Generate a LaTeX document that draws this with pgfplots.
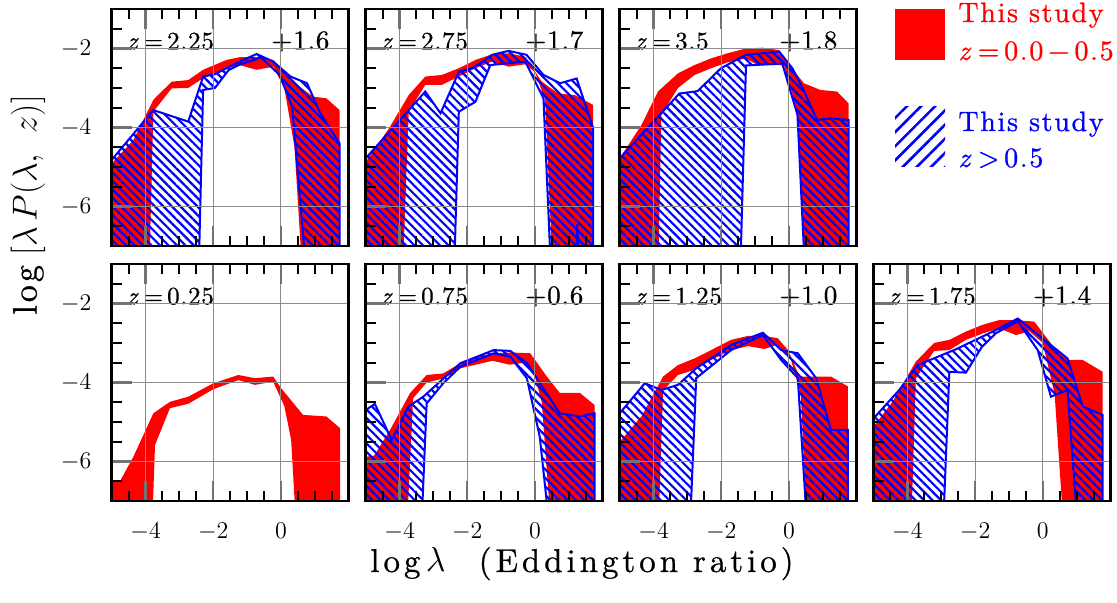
\documentclass[border=0pt]{standalone}
\usepackage{fontspec}
\usepackage{pgfplots}
\pgfplotsset{compat=1.18}
\usetikzlibrary{patterns.meta}
\newfontfamily\lmls{lmroman10-regular.otf}[LetterSpace=9, FakeBold=0.8, ItalicFont=lmroman10-italic.otf]
\newfontfamily\lmlz{lmroman10-regular.otf}[LetterSpace=3, FakeBold=0.8, ItalicFont=lmroman10-italic.otf]
\newfontfamily\lmlg{lmroman10-regular.otf}[LetterSpace=6, FakeBold=0.8, ItalicFont=lmroman10-italic.otf]
\newfontfamily\lmlw{lmroman10-regular.otf}[LetterSpace=12, FakeBold=0.8, ItalicFont=lmroman10-italic.otf]
\definecolor{pred}{RGB}{255,0,0}
\definecolor{pblue}{RGB}{0,0,255}
\tikzset{lab/.style={font=\lmlz\fontsize{12.5}{12.5}\selectfont, inner sep=0pt},
         labr/.style={font=\lmlz\fontsize{13.5}{13.5}\selectfont, inner sep=0pt}}
\pgfplotsset{
  panel/.style={
    scale only axis, width=118.5pt, height=118.5pt, anchor=south west,
    xmin=-5, xmax=2, ymin=-7, ymax=-1,
    xtick={-4,-2,0}, ytick={-6,-4,-2},
    minor xtick={-4.5,-3.5,-3,-2.5,-1.5,-1,-0.5,0.5,1,1.5},
    minor ytick={-6.5,-5.5,-5,-4.5,-3.5,-3,-2.5,-1.5},
    tick align=inside, xtick pos=both, ytick pos=left,
    major tick length=10pt, minor tick length=5pt,
    major tick style={black!55, line width=1.2pt},
    minor tick style={black, line width=1pt},
    grid=major, major grid style={black!45, line width=0.5pt},
    axis line style={line width=1.3pt},
    axis on top,
    xticklabels={}, yticklabels={},
    tick label style={font=\fontsize{13}{13}\selectfont, inner sep=0pt},
  },
  xlab/.style={xticklabels={$-4$,$-2$,$0$}, xticklabel style={yshift=-11pt}},
  ylab/.style={yticklabels={$-6$,$-4$,$-2$}, yticklabel style={xshift=-10pt}},
  redband/.style={draw=none, fill=pred},
  blueband/.style={pattern={Lines[angle=-45,distance=3pt,line width=1.1pt]}, pattern color=pblue, draw=pblue, line width=1pt},
}
\newcommand{\zl}[1]{\textit{z}\,=\,#1}
\begin{document}
\begin{tikzpicture}
% ---------- top row ----------
\begin{axis}[panel, ylab, at={(55.85pt,178.5pt)}]
\addplot[redband] coordinates {(-5,-4.91) (-4.36,-4.32) (-3.77,-3.3) (-3.23,-2.84) (-2.74,-2.8) (-2.3,-2.54) (-1.61,-2.29) (-1.22,-2.22) (-0.72,-2.21) (-0.23,-2.29) (0.28,-2.8) (0.95,-3.22) (1.34,-3.26) (1.73,-3.56) (1.73,-8) (0.65,-8) (0.4,-4.5) (0.1,-3.0) (-0.23,-2.46) (-0.72,-2.54) (-1.22,-2.42) (-1.61,-2.5) (-2.3,-2.75) (-2.74,-3.0) (-3.23,-3.01) (-3.77,-3.6) (-3.9,-8) (-5,-8)} -- cycle;
\addplot[blueband] coordinates {(-5,-4.82) (-3.77,-3.56) (-2.74,-3.85) (-2.3,-2.71) (-1.95,-2.65) (-1.22,-2.33) (-0.72,-2.14) (-0.23,-2.33) (0.28,-2.71) (0.77,-2.88) (1.16,-3.64) (1.73,-4.4) (1.73,-8) (0.78,-8) (0.33,-3.47) (-0.04,-2.67) (-0.6,-2.22) (-0.75,-2.28) (-1.2,-2.4) (-1.55,-2.55) (-1.95,-3.0) (-2.3,-3.05) (-2.44,-8) (-5,-8)} -- cycle;
\node[lab, anchor=base west] at (rel axis cs:0.063,0.83) {\zl{2.25}};
\node[labr, anchor=base east] at (rel axis cs:0.92,0.83) {+1.6};
\end{axis}
\begin{axis}[panel, at={(182.85pt,178.5pt)}]
\addplot[redband] coordinates {(-5,-4.87) (-4.31,-4.02) (-3.73,-3.18) (-3.24,-2.71) (-2.75,-2.67) (-2.25,-2.5) (-1.76,-2.29) (-1.27,-2.15) (-0.78,-2.12) (-0.29,-2.21) (0.2,-2.84) (0.69,-3.14) (1.18,-3.18) (1.72,-3.43) (1.72,-8) (0.54,-8) (0.3,-3.3) (0.0,-2.6) (-0.29,-2.4) (-0.78,-2.46) (-1.27,-2.33) (-1.76,-2.5) (-2.25,-2.71) (-2.75,-2.92) (-3.24,-2.92) (-3.73,-3.6) (-3.92,-8) (-5,-8)} -- cycle;
\addplot[blueband] coordinates {(-5,-4.78) (-3.24,-3.09) (-2.79,-3.64) (-2.25,-2.59) (-1.86,-2.5) (-1.47,-2.29) (-1.27,-2.16) (-0.78,-2.06) (-0.25,-2.16) (0.25,-2.67) (0.74,-2.88) (1.23,-2.76) (1.72,-4.02) (1.72,-8) (1.32,-8) (1.25,-6.45) (1.18,-8) (0.49,-8) (0.25,-3.26) (-0.29,-2.33) (-1.32,-2.42) (-1.76,-3.35) (-2.25,-3.6) (-2.4,-8) (-5,-8)} -- cycle;
\node[lab, anchor=base west] at (rel axis cs:0.063,0.83) {\zl{2.75}};
\node[labr, anchor=base east] at (rel axis cs:0.92,0.83) {+1.7};
\end{axis}
\begin{axis}[panel, at={(309.85pt,178.5pt)}]
\addplot[redband] coordinates {(-5,-4.78) (-4.36,-3.94) (-3.87,-3.09) (-3.28,-2.63) (-2.79,-2.42) (-2.3,-2.25) (-1.81,-2.12) (-1.27,-2.0) (-0.78,-1.98) (-0.29,-2.04) (0.05,-2.46) (0.44,-2.88) (0.93,-3.05) (1.42,-3.09) (1.76,-3.39) (1.76,-8) (0.49,-8) (0.25,-3.6) (-0.15,-2.42) (-0.93,-2.42) (-1.27,-2.25) (-1.81,-2.35) (-2.3,-2.5) (-2.79,-2.67) (-3.28,-3.0) (-3.77,-3.68) (-3.87,-8) (-5,-8)} -- cycle;
\addplot[blueband] coordinates {(-5,-4.78) (-3.24,-3.14) (-2.7,-3.08) (-2.01,-2.5) (-1.27,-2.16) (-0.29,-2.08) (0.1,-2.5) (0.4,-3.0) (0.83,-3.81) (1.23,-3.77) (1.76,-3.81) (1.76,-8) (0.49,-8) (0.25,-3.68) (-0.2,-2.38) (-1.27,-2.43) (-1.45,-8) (-5,-8)} -- cycle;
\node[lab, anchor=base west] at (rel axis cs:0.063,0.83) {\zl{3.5}};
\node[labr, anchor=base east] at (rel axis cs:0.92,0.83) {+1.8};
\end{axis}
% ---------- bottom row ----------
\begin{axis}[panel, xlab, ylab, at={(55.85pt,51pt)}]
\addplot[redband] coordinates {(-5,-6.49) (-4.75,-6.49) (-4.36,-5.88) (-3.77,-4.78) (-3.28,-4.49) (-2.74,-4.36) (-2.0,-4.02) (-1.26,-3.81) (-0.77,-3.89) (-0.23,-3.85) (0.01,-4.15) (0.65,-4.82) (1.34,-4.86) (1.75,-5.16) (1.75,-8) (0.47,-8) (0.3,-5.45) (0.1,-4.6) (-0.23,-3.98) (-0.77,-4.06) (-1.26,-3.94) (-2.0,-4.17) (-2.74,-4.54) (-3.28,-4.65) (-3.72,-5.58) (-3.82,-8) (-5,-8)} -- cycle;
\node[lab, anchor=base west] at (rel axis cs:0.063,0.83) {\zl{0.25}};
\end{axis}
\begin{axis}[panel, xlab, at={(182.85pt,51pt)}]
\addplot[redband] coordinates {(-5,-5.88) (-4.75,-5.85) (-4.28,-5.2) (-3.69,-4.27) (-3.2,-3.81) (-2.71,-3.77) (-2.2,-3.51) (-1.71,-3.35) (-1.22,-3.26) (-0.73,-3.24) (-0.14,-3.26) (0.35,-3.85) (0.73,-4.26) (1.32,-4.26) (1.76,-4.57) (1.76,-8) (0.5,-8) (0.2,-4.5) (0.0,-3.85) (-0.3,-3.5) (-0.75,-3.55) (-1.25,-3.45) (-2.2,-3.64) (-2.7,-3.9) (-3.2,-4.0) (-3.6,-4.4) (-3.8,-8) (-5,-8)} -- cycle;
\addplot[blueband] coordinates {(-5,-4.7) (-4.73,-4.54) (-4.23,-5.46) (-3.74,-4.61) (-3.3,-4.36) (-2.2,-3.51) (-1.22,-3.18) (-0.73,-3.2) (-0.24,-3.51) (0.73,-4.78) (1.32,-4.86) (1.76,-4.78) (1.76,-8) (0.47,-8) (0.14,-5.37) (-0.24,-3.89) (-0.73,-3.35) (-1.22,-3.26) (-2.2,-3.6) (-2.71,-4.02) (-3.2,-4.53) (-3.37,-8) (-5,-8)} -- cycle;
\node[lab, anchor=base west] at (rel axis cs:0.063,0.83) {\zl{0.75}};
\node[labr, anchor=base east] at (rel axis cs:0.92,0.83) {+0.6};
\end{axis}
\begin{axis}[panel, xlab, at={(309.85pt,51pt)}]
\addplot[redband] coordinates {(-5,-5.5) (-4.36,-4.86) (-3.72,-3.85) (-3.28,-3.56) (-2.79,-3.39) (-2.3,-3.18) (-1.71,-2.92) (-1.21,-2.82) (-0.72,-2.82) (-0.33,-2.88) (-0.03,-3.18) (0.31,-3.85) (0.75,-3.85) (1.24,-3.85) (1.74,-4.1) (1.74,-8) (0.55,-8) (0.35,-4.3) (0.05,-3.4) (-0.35,-3.05) (-0.72,-3.15) (-1.21,-3.08) (-1.71,-3.18) (-2.3,-3.43) (-2.79,-3.68) (-3.28,-3.81) (-3.72,-4.2) (-3.87,-8) (-5,-8)} -- cycle;
\addplot[blueband] coordinates {(-5,-4.78) (-4.26,-4.02) (-3.77,-4.19) (-3.28,-4.06) (-2.74,-3.64) (-1.71,-3.05) (-0.77,-2.74) (-0.23,-3.18) (0.26,-3.26) (0.8,-3.89) (1.24,-5.2) (1.74,-5.2) (1.74,-8) (0.56,-8) (0.26,-3.89) (-0.23,-3.43) (-0.77,-2.8) (-1.71,-3.18) (-2.74,-3.89) (-2.94,-8) (-5,-8)} -- cycle;
\node[lab, anchor=base west] at (rel axis cs:0.063,0.83) {\zl{1.25}};
\node[labr, anchor=base east] at (rel axis cs:0.92,0.83) {+1.0};
\end{axis}
\begin{axis}[panel, xlab, at={(436.75pt,51pt)}]
\addplot[redband] coordinates {(-5,-5.12) (-4.44,-4.49) (-3.75,-3.47) (-3.21,-3.0) (-2.76,-2.92) (-2.27,-2.71) (-1.78,-2.54) (-1.29,-2.42) (-0.79,-2.42) (-0.25,-2.46) (0.39,-3.18) (0.78,-3.43) (1.18,-3.43) (1.77,-3.73) (1.77,-8) (0.64,-8) (0.35,-4.3) (0.0,-3.0) (-0.4,-2.7) (-0.79,-2.8) (-1.29,-2.63) (-1.78,-2.76) (-2.27,-2.92) (-2.76,-3.18) (-3.21,-3.2) (-3.75,-3.9) (-3.9,-8) (-5,-8)} -- cycle;
\addplot[blueband] coordinates {(-5,-4.91) (-4.24,-4.19) (-3.7,-3.56) (-2.57,-3.16) (-1.38,-2.67) (-0.74,-2.38) (0.73,-3.39) (1.18,-4.61) (1.77,-4.82) (1.77,-8) (1.06,-8) (0.73,-4.19) (0.24,-4.36) (-0.15,-3.18) (-0.74,-2.45) (-1.38,-2.75) (-1.8,-3.1) (-2.27,-3.75) (-2.76,-3.73) (-2.96,-8) (-5,-8)} -- cycle;
\node[lab, anchor=base west] at (rel axis cs:0.063,0.83) {\zl{1.75}};
\node[labr, anchor=base east] at (rel axis cs:0.92,0.83) {+1.4};
\end{axis}
% ---------- legend ----------
\fill[pred] (447.5pt,271.5pt) rectangle (472.5pt,297pt);
\path[pattern={Lines[angle=45,distance=5pt,line width=1.3pt]}, pattern color=pblue] (447.5pt,218pt) rectangle (472.5pt,248pt);
\begin{scope}[every node/.style={anchor=base west, inner sep=0pt, font=\lmlg\fontsize{14}{14}\selectfont}]
\node[text=pred] at (479pt,290.5pt) {This study};
\node[text=pred] at (479pt,271.5pt) {\zl{0.0\,−\,0.5}};
\node[text=pblue] at (479pt,236pt) {This study};
\node[text=pblue] at (479pt,218pt) {\textit{z}\,>\,0.5};
\end{scope}
% ---------- axis labels ----------
\node[anchor=base, inner sep=0pt, font=\lmlw\fontsize{16.5}{16.5}\selectfont] at (291pt,15.5pt) {log\,$\lambda$\quad(Eddington ratio)};
\node[rotate=90, inner sep=0pt, font=\lmls\fontsize{17}{17}\selectfont] at (14pt,199pt) {log\;$\bigl[\lambda\,P(\lambda,\ z)\bigr]$};
\pgfresetboundingbox
\path[use as bounding box] (0,0) rectangle (558.5pt,301.5pt);
\end{tikzpicture}
\end{document}
